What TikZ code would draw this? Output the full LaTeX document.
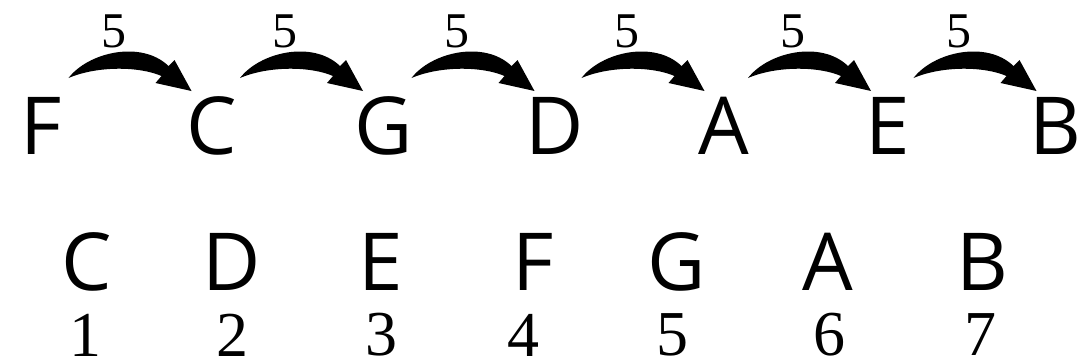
\documentclass[tikz,border=0pt]{standalone}
\usepackage{fontspec}
\setmainfont{Liberation Serif}
\newfontfamily\notefont{Open Sans}
\usetikzlibrary{calc}

\begin{document}
\begin{tikzpicture}[x=1pt, y=-1pt,
        note/.style={font=\notefont\fontsize{80}{96}\selectfont, inner sep=0pt},
        num/.style={font=\fontsize{64}{76}\selectfont, inner sep=0pt},
        step5/.style={font=\fontsize{50}{60}\selectfont, inner sep=0pt}]
        \useasboundingbox (0,0) rectangle (1090,364);

        % circle of fifths row
        \foreach \n/\x in {F/41, C/212, G/384, D/555, A/724, E/888, B/1055} {
            \node[note] (t\n) at (\x,126) {\n};
        }

        \foreach \a/\b in {F/C, C/G, G/D, D/A, A/E, E/B} {
            \begin{scope}[shift={($(t\a)!0.5!(t\b)$)}]
                \coordinate (s\a) at (-58,-48);
                \fill (s\a) .. controls (-38,-74) and (15,-86) .. (42,-60)
                    -- (48,-66) -- (65,-35) -- (29,-43) -- (35,-50)
                    .. controls (12,-60) and (-30,-60) .. (s\a) -- cycle;
                \node[step5] (f\a) at (-13,-95) {5};
            \end{scope}
        }

        % scale degrees
        \foreach \n/\x/\m/\i in {C/87/85/1, D/232/232/2, E/381/381/3, F/533/523/4, G/677/672/5, A/828/829/6, B/982/980/7} {
            \node[note] (b\n) at (\x,262) {\n};
            \node[num] (d\i) at (\m,335) {\i};
        }
\end{tikzpicture}
\end{document}
